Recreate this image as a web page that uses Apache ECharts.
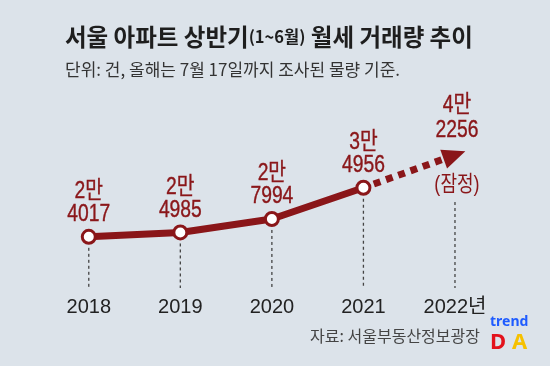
<!DOCTYPE html>
<html><head><meta charset="utf-8">
<script src="https://cdn.jsdelivr.net/npm/echarts@6/dist/echarts.min.js"></script>
<style>html,body{margin:0;padding:0;background:#dce3ea;}#c{width:550px;height:366px;}</style>
</head><body><div id="c"></div>
<script>
const years = ['2018', '2019', '2020', '2021', '2022년'];
const values = [24017, 24985, 27994, 34956, 42256];
const confirmedCount = 4;
const projectedNote = '(잠정)';
const titleParts = ['서울 아파트 상반기', '(1~6월)', ' 월세 거래량 추이'];
const subtitleText = '단위: 건, 올해는 7월 17일까지 조사된 물량 기준.';
const sourceText = '자료: 서울부동산정보광장';

const RED = '#8a1619';
const NUM_FONT = "'Liberation Sans','Arial','Noto Sans CJK KR',sans-serif";
const KR_FONT = "'Noto Sans CJK KR','Noto Sans',sans-serif";
const fmtMan = v => [Math.floor(v / 10000) + '만', String(v % 10000)];

const confirmed = values.slice(0, confirmedCount);
const yMin = 12600, yMax = 50600;

const chart = echarts.init(document.getElementById('c'));
chart.setOption({
  backgroundColor: '#dce3ea',
  animation: false,
  title: [{
    left: 60, top: 20,
    text: '{b|' + titleParts[0] + '}{s|' + titleParts[1] + '}{b|' + titleParts[2] + '}',
    textStyle: { rich: {
      b: { fontFamily: KR_FONT, fontWeight: 'bold', fontSize: 23.5, color: '#1e1e1e' },
      s: { fontFamily: KR_FONT, fontSize: 16.5, color: '#1e1e1e' }
    } }
  }, {
    left: 60, top: 56, text: subtitleText,
    textStyle: { fontFamily: KR_FONT, fontWeight: 'normal', fontSize: 17, color: '#333' }
  }, {
    right: 65, top: 323, text: sourceText,
    textStyle: { fontFamily: KR_FONT, fontWeight: 'normal', fontSize: 16, color: '#444' }
  }],
  graphic: [
    { type: 'text', left: 490, top: 315, style: { text: 'trend', fill: '#1f5cff', font: "bold 14px 'Noto Sans',sans-serif" } },
    { type: 'text', left: 490, top: 332, style: { text: 'D', fill: '#e3121c', font: "bold 22px 'Noto Sans',sans-serif" } },
    { type: 'text', left: 512, top: 332, style: { text: 'A', fill: '#f6c100', font: "bold 22px 'Noto Sans',sans-serif" } }
  ],
  grid: { left: 43, right: 49.25, top: 117.6, bottom: 78 },
  xAxis: {
    type: 'category', data: years, boundaryGap: true,
    axisLine: { show: false }, axisTick: { show: false }, splitLine: { show: false },
    axisLabel: { margin: 9, fontFamily: NUM_FONT, fontSize: 20, color: '#222' }
  },
  yAxis: { type: 'value', min: yMin, max: yMax, show: false, splitLine: { show: false } },
  series: [
    {
      type: 'custom', z: 1, silent: true,
      data: values.map((v, i) => [i, v]),
      renderItem: (params, api) => {
        const i = api.value(0);
        const p = api.coord([i, api.value(1)]);
        const b = api.coord([i, yMin]);
        const off = i >= confirmedCount ? 47 : 11;
        return { type: 'line', shape: { x1: p[0], y1: p[1] + off, x2: p[0], y2: b[1] },
          style: { stroke: '#444', lineWidth: 1.3, lineDash: [3, 3] } };
      }
    },
    {
      type: 'custom', z: 2, silent: true,
      data: [[confirmedCount - 1, values[confirmedCount - 1], confirmedCount, values[confirmedCount]]],
      renderItem: (params, api) => {
        const p0 = api.coord([api.value(0), api.value(1)]);
        const p1 = api.coord([api.value(2), api.value(3)]);
        const dx = p1[0] - p0[0], dy = p1[1] - p0[1];
        const len = Math.sqrt(dx * dx + dy * dy);
        const ux = dx / len, uy = dy / len, nx = -uy, ny = ux;
        const tip = [p1[0] + ux * 11, p1[1] + uy * 11];
        const base = [tip[0] - ux * 23, tip[1] - uy * 23];
        return { type: 'group', children: [
          { type: 'line', shape: { x1: p0[0] + ux * 11, y1: p0[1] + uy * 11, x2: base[0] + ux * 2, y2: base[1] + uy * 2 },
            style: { stroke: RED, lineWidth: 7, lineDash: [7, 6], lineCap: 'butt' } },
          { type: 'polygon', shape: { points: [tip, [base[0] + nx * 10, base[1] + ny * 10], [base[0] - nx * 10, base[1] - ny * 10]] },
            style: { fill: RED } }
        ] };
      }
    },
    {
      type: 'line', z: 3,
      data: confirmed,
      lineStyle: { color: RED, width: 7 },
      symbol: 'circle', symbolSize: 13,
      itemStyle: { color: '#fff', borderColor: RED, borderWidth: 3 }
    },
    {
      type: 'custom', z: 4, silent: true,
      data: values.map((v, i) => [i, v]),
      renderItem: (params, api) => {
        const i = api.value(0), v = api.value(1);
        const p = api.coord([i, v]);
        const proj = i >= confirmedCount;
        const lines = fmtMan(v);
        const o1 = proj ? -50 : -45, o2 = proj ? -25 : -22;
        const x = p[0] + (proj ? 2 : 0);
        const mk = (t, dy, size, sw) => ({ type: 'text', x: x, y: p[1] + dy, scaleX: 0.82,
          style: { text: t, fill: RED, stroke: RED, lineWidth: sw, font: size + "px " + NUM_FONT, textAlign: 'center', textVerticalAlign: 'middle' } });
        const kids = [mk(lines[0], o1, 23.5, 0.4), mk(lines[1], o2, 23.5, 0.4)];
        if (proj) kids.push(mk(projectedNote, 30, 22, 0));
        return { type: 'group', children: kids };
      }
    }
  ]
});
</script></body></html>
